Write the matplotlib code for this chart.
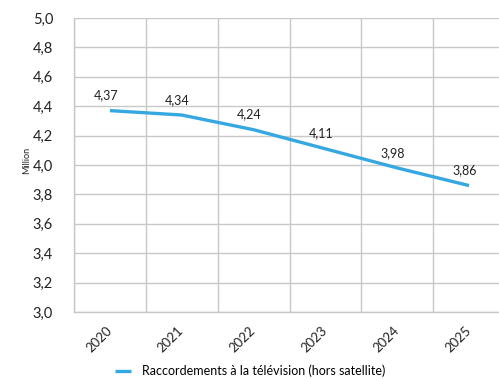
import matplotlib
matplotlib.use("Agg")
import matplotlib.pyplot as plt
from matplotlib.ticker import FuncFormatter

plt.rcParams['font.family'] = ['Lato', 'DejaVu Sans']

years = ['2020', '2021', '2022', '2023', '2024', '2025']
values = [4.37, 4.34, 4.24, 4.11, 3.98, 3.86]
labels = ['4,37', '4,34', '4,24', '4,11', '3,98', '3,86']
series_name = 'Raccordements à la télévision (hors satellite)'

W, H = 499, 379
fig = plt.figure(figsize=(W / 100, H / 100), dpi=100)
# plot area in pixels: left 74, right 505 (cut by figure edge), top 18, bottom 312
ax = fig.add_axes([74 / W, (H - 312) / H, (505 - 74) / W, (312 - 18) / H])

x = list(range(len(years)))
line, = ax.plot(x, values, color='#35a7e1', lw=2.4, solid_capstyle='butt',
                label=series_name, zorder=3)

for xi, v, t in zip(x, values, labels):
    ax.annotate(t, (xi, v), xytext=(-3, 11), textcoords='offset points',
                ha='center', va='center', fontsize=9, color='#222222')

ax.set_xlim(-0.5, 5.5)
ax.set_ylim(3.0, 5.0)
ax.set_yticks([3.0 + 0.2 * i for i in range(11)])
ax.yaxis.set_major_formatter(FuncFormatter(lambda v, p: f'{v:.1f}'.replace('.', ',')))
ax.set_xticks([i + 0.5 for i in range(-1, 6)], minor=False)
ax.set_xticklabels([''] * 7)
ax.set_xticks(x, minor=True)
ax.set_xticklabels(years, minor=True, rotation=45, ha='right', va='center',
                   rotation_mode='anchor', fontsize=9.5, color='#222222')
ax.tick_params(axis='x', which='minor', length=0, pad=12)
ax.tick_params(axis='x', which='major', length=0)
ax.tick_params(axis='y', length=0, pad=15, labelsize=10.5, labelcolor='#222222')

ax.grid(True, which='major', color='#c8c8c8', lw=1)
for s in ['top', 'right']:
    ax.spines[s].set_visible(False)
for s in ['left', 'bottom']:
    ax.spines[s].set_color('#c8c8c8')
    ax.spines[s].set_linewidth(1)

fig.text(27 / W, 1 - 160 / H, 'Million', rotation=90, ha='center', va='center',
         fontsize=6.5, color='#222222')

fig.legend(handles=[line], loc='center', bbox_to_anchor=(250 / W, 1 - 371 / H),
           frameon=False, fontsize=9, handlelength=1.3, handletextpad=0.9)

fig.savefig('out.png', dpi=100)
